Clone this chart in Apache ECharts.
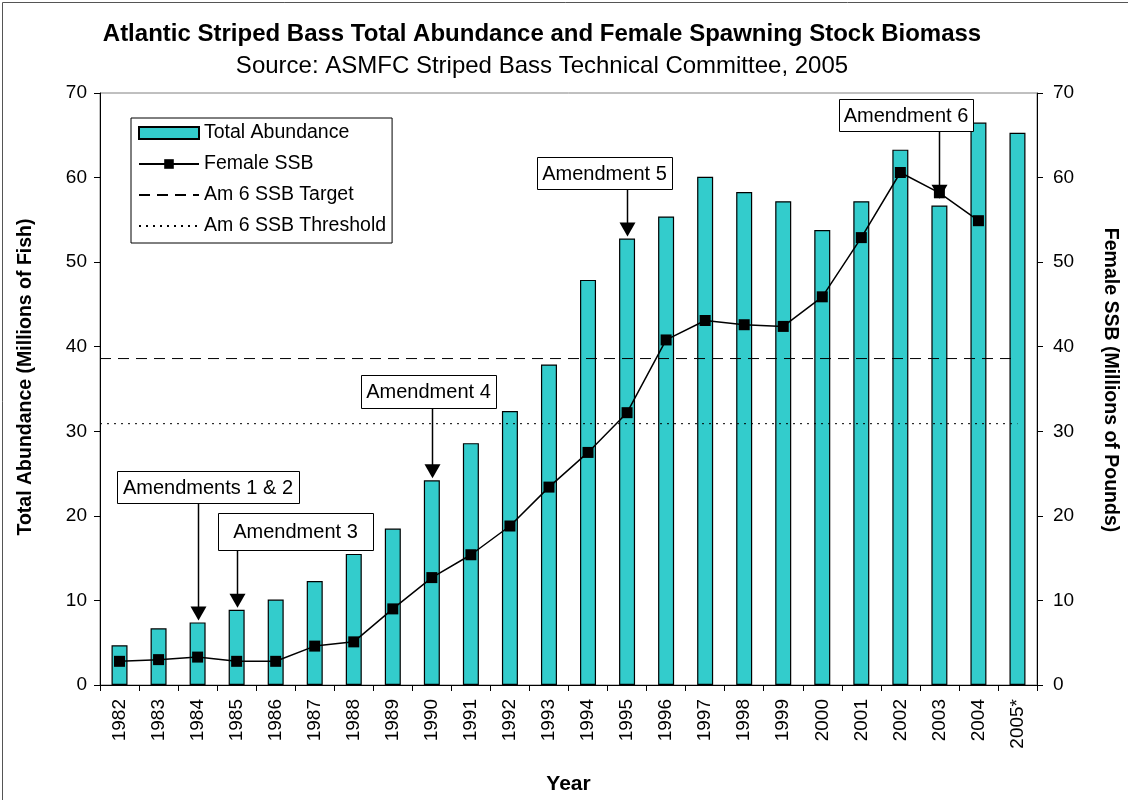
<!DOCTYPE html>
<html><head><meta charset="utf-8">
<script src="https://cdn.jsdelivr.net/npm/echarts@6/dist/echarts.min.js"></script>
<style>html,body{margin:0;padding:0;background:#fff}#c{width:1128px;height:800px}</style>
</head><body><div id="c"></div>
<script>
// ---- data ----
const years = ['1982','1983','1984','1985','1986','1987','1988','1989','1990','1991','1992','1993','1994','1995','1996','1997','1998','1999','2000','2001','2002','2003','2004','2005*'];
const totalAbundance = [4.7, 6.7, 7.4, 8.9, 10.1, 12.3, 15.5, 18.5, 24.2, 28.6, 32.4, 37.9, 47.9, 52.8, 55.4, 60.1, 58.3, 57.2, 53.8, 57.2, 63.3, 56.7, 66.5, 65.3];
const femaleSSB = [2.8, 3.0, 3.3, 2.8, 2.8, 4.6, 5.1, 9.0, 12.7, 15.4, 18.8, 23.4, 27.5, 32.2, 40.8, 43.1, 42.6, 42.4, 45.9, 52.9, 60.6, 58.2, 54.9, null];
const ssbTarget = 38.6;
const ssbThreshold = 30.9;
const refLineYears = [1981.5, 2005];   // reference lines run from left edge to 2005
const yTicks = [0, 70, 10];            // min, max, interval
const annotations = [
  { text: 'Amendments 1 & 2', year: '1984', on: 'bar' },
  { text: 'Amendment 3',      year: '1985', on: 'bar' },
  { text: 'Amendment 4',      year: '1990', on: 'bar' },
  { text: 'Amendment 5',      year: '1995', on: 'bar' },
  { text: 'Amendment 6',      year: '2003', on: 'ssb' }
];
// ---- layout of annotation boxes (pixels) ----
const boxLayout = [
  { left: 117, top: 471, w: 182, h: 32 },
  { left: 218, top: 513, w: 155, h: 37 },
  { left: 361, top: 375, w: 135, h: 33 },
  { left: 537, top: 157, w: 135, h: 32 },
  { left: 839, top: 99,  w: 134, h: 32 }
];

const FONT = '"Liberation Sans", Arial, sans-serif';
const chart = echarts.init(document.getElementById('c'), null, { renderer: 'canvas' });

const yAxisBase = {
  type: 'value', min: yTicks[0], max: yTicks[1], interval: yTicks[2],
  axisLine: { show: true, lineStyle: { color: '#000', width: 1 } },
  axisTick: { show: true, inside: false, length: 6, lineStyle: { color: '#000' } },
  splitLine: { show: false },
  axisLabel: { fontSize: 19, color: '#000', fontFamily: FONT },
  nameLocation: 'middle'
};
const nameStyle = { fontSize: 19.5, fontWeight: 'bold', color: '#000', fontFamily: FONT };
const clear = 'rgba(0,0,0,0)';

chart.setOption({
  animation: false,
  backgroundColor: '#fff',
  grid: { left: 100, right: 79, top: 93, bottom: 113, show: true, borderColor: '#808080', borderWidth: 1, backgroundColor: 'transparent' },
  legend: {
    orient: 'vertical', left: 131, top: 118,
    itemWidth: 60, itemHeight: 12, itemGap: 11,
    padding: [5, 6, 7, 7],
    borderColor: '#000', borderWidth: 1, backgroundColor: '#fff',
    textStyle: { fontSize: 19.5, color: '#000', fontFamily: FONT, lineHeight: 20 },
    data: [
      { name: 'Total Abundance', icon: 'rect' },
      { name: 'Female SSB' },
      { name: 'Am 6 SSB Target' },
      { name: 'Am 6 SSB Threshold' }
    ],
    selectedMode: false
  },
  xAxis: [
    {
      type: 'category', data: years, boundaryGap: true,
      axisLine: { lineStyle: { color: '#000', width: 1 } },
      axisTick: { show: true, length: 6, interval: 0, lineStyle: { color: '#000' } },
      axisLabel: { rotate: 90, interval: 0, fontSize: 19, color: '#000', fontFamily: FONT, margin: 14 },
      name: 'Year', nameLocation: 'middle', nameGap: 89,
      nameTextStyle: { fontSize: 21, fontWeight: 'bold', color: '#000', fontFamily: FONT }
    },
    { type: 'value', min: 1981.5, max: 2005.5, show: false }
  ],
  yAxis: [
    Object.assign({}, yAxisBase, { position: 'left', name: 'Total Abundance (Millions of Fish)', nameRotate: 90, nameGap: 64,
      nameTextStyle: Object.assign({}, nameStyle, { padding: [0, 0, 0, 24] }),
      axisLabel: Object.assign({}, yAxisBase.axisLabel, { margin: 13 }) }),
    Object.assign({}, yAxisBase, { position: 'right', name: 'Female SSB (Millions of Pounds)', nameRotate: -90, nameGap: 63,
      nameTextStyle: Object.assign({}, nameStyle, { padding: [0, 18, 0, 0] }),
      axisLabel: Object.assign({}, yAxisBase.axisLabel, { margin: 16 }) })
  ],
  series: [
    {
      name: 'Total Abundance', type: 'bar', data: totalAbundance, barWidth: 16,
      itemStyle: { color: '#33CCCC', borderColor: '#000', borderWidth: 1.2 }, z: 2
    },
    {
      name: 'Am 6 SSB Target', type: 'line', xAxisIndex: 1, yAxisIndex: 1,
      data: refLineYears.map(y => [y, ssbTarget]), symbol: 'none',
      itemStyle: { color: clear, borderColor: clear },
      lineStyle: { color: '#000', width: 1, type: [11, 7] }, z: 3
    },
    {
      name: 'Am 6 SSB Threshold', type: 'line', xAxisIndex: 1, yAxisIndex: 1,
      data: refLineYears.map(y => [y, ssbThreshold]), symbol: 'none',
      itemStyle: { color: clear, borderColor: clear },
      lineStyle: { color: '#000', width: 1, type: [2, 5] }, z: 3
    },
    {
      name: 'Female SSB', type: 'line', yAxisIndex: 1, data: femaleSSB,
      symbol: 'rect', symbolSize: 11,
      itemStyle: { color: '#000' }, lineStyle: { color: '#000', width: 1.5 }, z: 5
    }
  ]
});

// ---- titles, frame and annotation boxes ----
const g = [];
g.push({ type: 'rect', shape: { x: 2.5, y: 2.5, width: 1140, height: 820 }, style: { fill: 'none', stroke: '#555', lineWidth: 1 }, z: 0, silent: true });
g.push({ type: 'text', x: 542, y: 34, style: { text: 'Atlantic Striped Bass Total Abundance and Female Spawning Stock Biomass', font: 'bold 24px ' + FONT, fill: '#000', textAlign: 'center', textVerticalAlign: 'middle' }, z: 10 });
g.push({ type: 'text', x: 542, y: 66, style: { text: 'Source: ASMFC Striped Bass Technical Committee, 2005', font: '24px ' + FONT, fill: '#000', textAlign: 'center', textVerticalAlign: 'middle' }, z: 10 });

annotations.forEach((a, i) => {
  const b = boxLayout[i];
  const idx = years.indexOf(a.year);
  const val = a.on === 'bar' ? totalAbundance[idx] : femaleSSB[idx];
  const p = chart.convertToPixel({ xAxisIndex: 0, yAxisIndex: a.on === 'bar' ? 0 : 1 }, [idx, val]);
  const ax = Math.round(p[0]) + 0.5;
  const tipY = a.on === 'bar' ? p[1] - 2 : p[1] + 6;
  const headH = 14, headW = 8;
  const zz = a.on === 'bar' ? 20 : 1;
  g.push({ type: 'line', shape: { x1: ax, y1: b.top + b.h, x2: ax, y2: tipY - headH + 1 }, style: { stroke: '#000', lineWidth: 1.5 }, z: zz });
  g.push({ type: 'polygon', shape: { points: [[ax - headW, tipY - headH], [ax + headW, tipY - headH], [ax, tipY]] }, style: { fill: '#000' }, z: zz });
  g.push({ type: 'rect', shape: { x: b.left + 0.5, y: b.top + 0.5, width: b.w, height: b.h }, style: { fill: '#fff', stroke: '#000', lineWidth: 1 }, z: 20 });
  g.push({ type: 'text', x: b.left + b.w / 2, y: b.top + b.h / 2 + 1, style: { text: a.text, font: '20px ' + FONT, fill: '#000', textAlign: 'center', textVerticalAlign: 'middle' }, z: 21 });
});
chart.setOption({ graphic: g });
</script>
</body></html>
